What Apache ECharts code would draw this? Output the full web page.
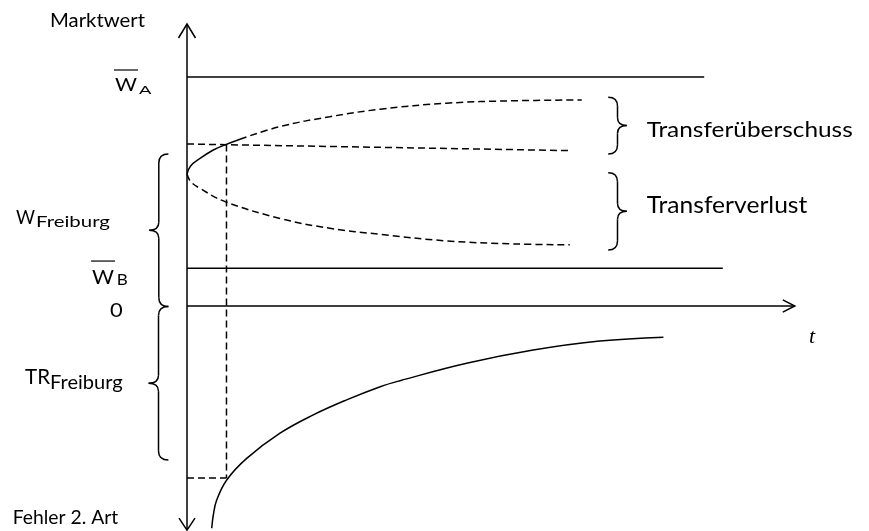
<!DOCTYPE html>
<html>
<head>
<meta charset="utf-8">
<script src="https://cdn.jsdelivr.net/npm/echarts@6/dist/echarts.min.js"></script>
<style>
  html, body { margin: 0; padding: 0; background: #fff; }
  #chart { width: 869px; height: 531px; }
</style>
</head>
<body>
<div id="chart"></div>
<script>
// Marktwert-Niveaus (horizontale Linien)
const wA = 76.3
const wB = 12.6
const wAEnd = 86.2
const wBEnd = 89.3

// Achsen
const tAxisEnd = 101.3
const yAxisTop = 94
const yAxisBottom = -74.7

// W_Freiburg: oberer Ast (durchgezogen bis zum Schnittpunkt, dann gestrichelt)
const upperSolid = [[0, 44], [0.6, 46.7], [2.17, 49.2], [4.38, 52], [6.33, 53.7], [8.83, 55.6]]
const upperDashed = [[8.83, 55.6], [15.5, 59.8], [23.8, 63.1], [32.2, 65.6], [43.3, 67.6], [54.4, 68.4], [65.8, 68.7]]
// unterer Ast
const lowerDashed = [[0, 44], [0.6, 41.5], [2.17, 39.2], [6.33, 34.8], [15.5, 29.2], [23.8, 25.9], [32.2, 23.9], [43.3, 21.7], [54.4, 20.7], [63.8, 20.4]]
// Referenzlinie (gestrichelt)
const refLine = [[0, 54], [63.8, 51.8]]

// TR_Freiburg Kurve
const trCurve = [[4.12, -74.1], [4.4, -69.5], [4.95, -64.7], [6.62, -58], [9.95, -50.8], [15.5, -42.4], [21.05, -36.3],
  [26.6, -31.3], [32.2, -26.9], [35.5, -24.9], [46.6, -19.1], [57.7, -14.7], [68.8, -11.7], [79.4, -10.4]]

// Fehler 2. Art
const tStar = 6.58
const wStar = 53.8
const trStar = -57.3

// Klammern: [yOben, yUnten, xEnden, xSpitze]
const braces = [
  [50.7, -0.2, -3.1, -6.3],
  [-0.2, -51.3, -3.1, -6.4],
  [69.6, 50.7, 70.2, 73.3],
  [44.4, 18.7, 70.2, 73.3]
]

const arrowTips = [[0, yAxisTop, 0], [0, yAxisBottom, 1], [tAxisEnd, 0, 2]]

// Beschriftungen: linker Rand / Mitte in Datenkoordinaten, Versalhöhe und Breite in px
const labels = [
  { text: 'Marktwert', x: -22.83, y: 95.1, cap: 13.3, w: 95 },
  { text: 'W', x: -12, y: 73.5, cap: 13, w: 22, bar: true },
  { text: 'A', x: -8, y: 72, cap: 8.3, w: 12.4 },
  { text: 'W', x: -28.5, y: 29.4, cap: 14.3, w: 19 },
  { text: 'Freiburg', x: -25.17, y: 28.1, cap: 11.3, w: 74 },
  { text: 'W', x: -15.83, y: 9.6, cap: 14.3, w: 22, bar: true },
  { text: 'B', x: -11.72, y: 8.57, cap: 10.7, w: 11 },
  { text: '0', x: -12.83, y: -1.4, cap: 14.3, w: 12.7 },
  { text: 'TR', x: -27, y: -23.83, cap: 15, w: 25 },
  { text: 'Freiburg', x: -22.83, y: -25.57, cap: 13.3, w: 72.7 },
  { text: 'Fehler 2. Art', x: -29.05, y: -70.78, cap: 13.3, w: 105.6 },
  { text: 'Transferüberschuss', x: 76.62, y: 58.83, cap: 15.6, w: 206 },
  { text: 'Transferverlust', x: 76.62, y: 33.33, cap: 16, w: 160.6 },
  { text: 't', x: 103.67, y: -10.5, font: 'italic 22px "Liberation Serif"' }
]

const FONT = 'Lato'
const ctx = document.createElement('canvas').getContext('2d')
function textWidth(text, font) {
  ctx.font = font
  return ctx.measureText(text).width
}

const solid = { color: '#000', width: 1.5, type: 'solid' }
const dashed = { color: '#000', width: 1.5, type: [7, 4] }

function lineSeries(data, style, smooth) {
  return {
    type: 'line',
    data: data,
    symbol: 'none',
    smooth: smooth ? 0.4 : false,
    lineStyle: style,
    silent: true,
    animation: false,
    z: 3
  }
}

const stroke = { stroke: '#000', lineWidth: 1.5, fill: 'none' }

const chart = echarts.init(document.getElementById('chart'))
chart.setOption({
  backgroundColor: '#fff',
  animation: false,
  grid: { left: 7, right: 22, top: 6, bottom: 0 },
  xAxis: { type: 'value', min: -30, max: 110, show: false },
  yAxis: { type: 'value', min: -75, max: 100, show: false },
  series: [
    // Achsen
    lineSeries([[0, yAxisBottom], [0, yAxisTop]], solid),
    lineSeries([[0, 0], [tAxisEnd, 0]], solid),
    // Niveaus
    lineSeries([[0, wA], [wAEnd, wA]], solid),
    lineSeries([[0, wB], [wBEnd, wB]], solid),
    // Kurven
    lineSeries(upperSolid, solid, true),
    lineSeries(upperDashed, dashed, true),
    lineSeries(lowerDashed, dashed, true),
    lineSeries(refLine, dashed),
    lineSeries(trCurve, solid, true),
    // Hilfslinien
    lineSeries([[tStar, wStar], [tStar, trStar]], dashed),
    lineSeries([[0, trStar], [tStar, trStar]], dashed),
    // Pfeilspitzen
    {
      type: 'custom',
      data: arrowTips,
      silent: true,
      animation: false,
      renderItem(params, api) {
        const p = api.coord([api.value(0), api.value(1)])
        const dir = api.value(2)
        let pts
        if (dir === 0) pts = [[p[0] - 8.5, p[1] + 14], p, [p[0] + 8.5, p[1] + 14]]
        else if (dir === 1) pts = [[p[0] - 8, p[1] - 12], p, [p[0] + 8, p[1] - 12]]
        else pts = [[p[0] - 12, p[1] - 6.2], p, [p[0] - 12, p[1] + 6.2]]
        return { type: 'polyline', shape: { points: pts }, style: stroke }
      }
    },
    // Klammern
    {
      type: 'custom',
      data: braces,
      silent: true,
      animation: false,
      renderItem(params, api) {
        const top = api.coord([api.value(2), api.value(0)])
        const bot = api.coord([api.value(2), api.value(1)])
        const tip = api.coord([api.value(3), (api.value(0) + api.value(1)) / 2])
        const xe = top[0]
        const xt = tip[0]
        const xs = (xe + xt) / 2
        const yT = top[1]
        const yB = bot[1]
        const ym = tip[1]
        const r = 9
        const rm = 8
        const bez = (x1, y1, cx, cy, x2, y2) => ({ type: 'bezierCurve', shape: { x1, y1, cpx1: cx, cpy1: cy, x2, y2 }, style: stroke })
        const ln = (x1, y1, x2, y2) => ({ type: 'line', shape: { x1, y1, x2, y2 }, style: stroke })
        return {
          type: 'group',
          children: [
            bez(xe, yT, xs, yT, xs, yT + r),
            ln(xs, yT + r, xs, ym - rm),
            bez(xs, ym - rm, xs, ym, xt, ym),
            bez(xt, ym, xs, ym, xs, ym + rm),
            ln(xs, ym + rm, xs, yB - r),
            bez(xs, yB - r, xs, yB, xe, yB)
          ]
        }
      }
    },
    // Beschriftungen
    {
      type: 'custom',
      data: labels.map(l => [l.x, l.y]),
      silent: true,
      animation: false,
      renderItem(params, api) {
        const l = labels[params.dataIndex]
        const p = api.coord([api.value(0), api.value(1)])
        const font = l.font || ((l.cap / 0.72).toFixed(1) + 'px ' + FONT)
        const sx = l.w ? l.w / textWidth(l.text, font) : 1
        const children = [{
          type: 'text', x: p[0], y: p[1], scaleX: sx,
          style: { text: l.text, font: font, fill: '#000', align: 'left', verticalAlign: 'middle', textAlign: 'left', textVerticalAlign: 'middle' }
        }]
        if (l.bar) {
          const yb = p[1] - l.cap / 2 - 9
          children.push({ type: 'line', shape: { x1: p[0] - 1, y1: yb, x2: p[0] + l.w + 1, y2: yb }, style: { stroke: '#000', lineWidth: 1.2 } })
        }
        return { type: 'group', children }
      }
    }
  ]
})
</script>
</body>
</html>
